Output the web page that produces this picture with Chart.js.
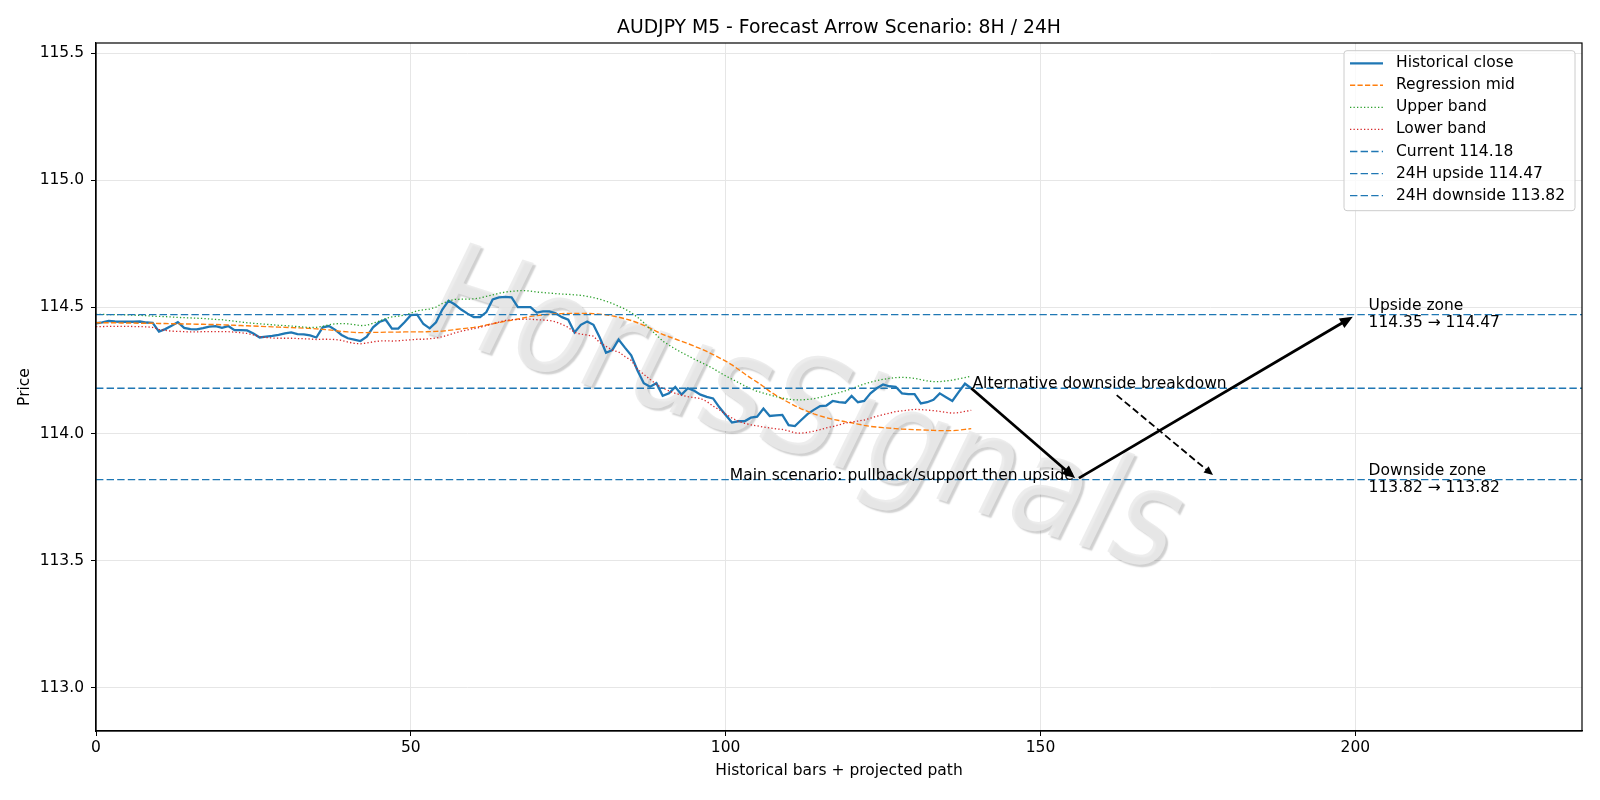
<!DOCTYPE html>
<html><head><meta charset="utf-8">
<script src="https://cdn.jsdelivr.net/npm/chart.js@4.4.1/dist/chart.umd.min.js"></script>
<style>html,body{margin:0;padding:0;background:#fff;}canvas{display:block;}</style>
</head><body>
<canvas id="c" width="1600" height="800"></canvas>
<script>
// ---------- DATA ----------
const historicalClose = [
114.436,114.440,114.445,114.443,114.442,114.442,114.442,114.443,114.439,114.438,
114.403,114.413,114.426,114.440,114.418,114.413,114.412,114.417,114.423,114.425,
114.418,114.425,114.409,114.409,114.408,114.396,114.380,114.383,114.386,114.390,
114.396,114.400,114.393,114.392,114.388,114.380,114.420,114.425,114.410,114.390,
114.377,114.372,114.366,114.383,114.420,114.441,114.450,114.415,114.415,114.440,
114.468,114.470,114.433,114.416,114.440,114.490,114.525,114.510,114.490,114.474,
114.460,114.460,114.480,114.530,114.538,114.540,114.538,114.500,114.500,114.500,
114.478,114.483,114.483,114.475,114.460,114.450,114.400,114.430,114.443,114.430,
114.380,114.320,114.330,114.372,114.340,114.310,114.250,114.200,114.186,114.200,
114.150,114.160,114.185,114.155,114.180,114.170,114.155,114.146,114.140,114.105,
114.075,114.045,114.050,114.050,114.064,114.068,114.100,114.071,114.073,114.075,
114.035,114.031,114.055,114.078,114.095,114.110,114.112,114.130,114.125,114.123,
114.150,114.125,114.130,114.160,114.180,114.195,114.188,114.186,114.160,114.157,
114.157,114.120,114.125,114.135,114.160,114.145,114.130,114.165,114.198,114.180];

const regressionMid = [
114.438,114.438,114.438,114.438,114.437,114.437,114.437,114.436,114.436,114.436,
114.435,114.435,114.434,114.434,114.433,114.433,114.432,114.432,114.431,114.431,
114.430,114.429,114.428,114.427,114.426,114.425,114.424,114.423,114.422,114.421,
114.420,114.419,114.418,114.417,114.416,114.414,114.412,114.410,114.407,114.404,
114.402,114.400,114.399,114.399,114.400,114.400,114.401,114.401,114.401,114.402,
114.402,114.402,114.402,114.403,114.404,114.405,114.408,114.411,114.414,114.417,
114.420,114.424,114.429,114.434,114.439,114.444,114.448,114.453,114.458,114.463,
114.466,114.469,114.471,114.473,114.474,114.475,114.475,114.475,114.475,114.474,
114.472,114.469,114.465,114.460,114.454,114.447,114.438,114.428,114.417,114.404,
114.392,114.383,114.374,114.365,114.356,114.346,114.336,114.325,114.313,114.300,
114.287,114.272,114.255,114.237,114.220,114.204,114.187,114.168,114.152,114.138,
114.124,114.111,114.099,114.089,114.079,114.071,114.064,114.058,114.053,114.048,
114.044,114.039,114.034,114.030,114.027,114.025,114.023,114.021,114.019,114.018,
114.017,114.016,114.015,114.014,114.013,114.013,114.013,114.015,114.018,114.021];

const upperBand = [
114.471,114.471,114.470,114.470,114.470,114.469,114.468,114.467,114.466,114.464,
114.463,114.462,114.461,114.459,114.458,114.457,114.456,114.455,114.453,114.451,
114.450,114.447,114.444,114.441,114.438,114.436,114.434,114.432,114.430,114.428,
114.427,114.425,114.423,114.421,114.419,114.420,114.424,114.430,114.434,114.435,
114.434,114.431,114.427,114.428,114.436,114.445,114.455,114.461,114.464,114.468,
114.476,114.485,114.489,114.492,114.500,114.514,114.524,114.530,114.531,114.531,
114.532,114.536,114.542,114.548,114.554,114.559,114.562,114.564,114.565,114.563,
114.559,114.557,114.555,114.553,114.551,114.550,114.548,114.546,114.542,114.537,
114.531,114.523,114.514,114.503,114.492,114.478,114.460,114.438,114.413,114.390,
114.366,114.350,114.335,114.321,114.308,114.295,114.283,114.271,114.258,114.243,
114.229,114.216,114.203,114.190,114.178,114.168,114.161,114.154,114.147,114.141,
114.137,114.134,114.134,114.136,114.139,114.144,114.150,114.157,114.163,114.170,
114.178,114.188,114.197,114.204,114.210,114.215,114.219,114.222,114.223,114.222,
114.219,114.214,114.209,114.206,114.206,114.209,114.212,114.217,114.222,114.228];

const lowerBand = [
114.423,114.423,114.424,114.424,114.424,114.424,114.423,114.423,114.422,114.420,
114.412,114.408,114.405,114.404,114.403,114.402,114.402,114.403,114.403,114.403,
114.403,114.403,114.401,114.399,114.396,114.390,114.383,114.380,114.378,114.377,
114.377,114.377,114.376,114.375,114.374,114.372,114.373,114.373,114.372,114.369,
114.362,114.357,114.355,114.358,114.363,114.366,114.367,114.366,114.367,114.369,
114.371,114.373,114.373,114.375,114.378,114.383,114.390,114.398,114.405,114.410,
114.415,114.420,114.427,114.434,114.441,114.447,114.450,114.451,114.452,114.452,
114.450,114.449,114.447,114.442,114.432,114.420,114.400,114.393,114.390,114.385,
114.360,114.345,114.330,114.323,114.305,114.290,114.255,114.235,114.215,114.195,
114.180,114.170,114.160,114.153,114.147,114.143,114.140,114.128,114.110,114.095,
114.078,114.063,114.050,114.042,114.036,114.032,114.027,114.024,114.020,114.018,
114.012,114.004,114.003,114.006,114.011,114.017,114.024,114.029,114.036,114.043,
114.047,114.051,114.055,114.062,114.070,114.076,114.082,114.088,114.091,114.094,
114.097,114.096,114.094,114.092,114.089,114.085,114.082,114.084,114.089,114.093];

const currentLevel = 114.18;
const upsideLevel = 114.47;
const downsideLevel = 113.82;
const upsideZone = [114.35, 114.47];
const downsideZone = [113.82, 113.82];

const xTicks = [0, 50, 100, 150, 200];
const yTicks = [113.0, 113.5, 114.0, 114.5, 115.0, 115.5];
const xRange = [0, 236];
const yRange = [112.83, 115.54];

// arrow endpoints in data units [x, price]
const mainArrowDown = [[139.0, 114.18], [155.5, 113.826]];
const mainArrowUp = [[156.1, 113.826], [199.6, 114.462]];
const altArrow = [[162.1, 114.153], [177.4, 113.838]];

const titleText = 'AUDJPY M5 - Forecast Arrow Scenario: 8H / 24H';
const xLabel = 'Historical bars + projected path';
const yLabel = 'Price';
const altText = 'Alternative downside breakdown';
const mainText = 'Main scenario: pullback/support then upside';
const upsideText = ['Upside zone', upsideZone[0].toFixed(2) + ' \u2192 ' + upsideZone[1].toFixed(2)];
const downsideText = ['Downside zone', downsideZone[0].toFixed(2) + ' \u2192 ' + downsideZone[1].toFixed(2)];
const watermarkText = 'HorusSignals';

const legendLabels = ['Historical close', 'Regression mid', 'Upper band', 'Lower band',
  'Current ' + currentLevel.toFixed(2), '24H upside ' + upsideLevel.toFixed(2), '24H downside ' + downsideLevel.toFixed(2)];

// ---------- STYLES ----------
const C_BLUE = '#1f77b4', C_ORANGE = '#ff7f0e', C_GREEN = '#2ca02c', C_RED = '#d62728';
const FONT = '"DejaVu Sans", Verdana, sans-serif';
const FS = 15.5, FS_TITLE = 18.8;
const DASH_H = [7.4, 3.2];
const DASH_MID = [5.2, 2.3];
const DOT = [1.3, 2.2];

const toXY = arr => arr.map((y, i) => ({x: i, y: y}));
const hline = v => [{x: xRange[0], y: v}, {x: xRange[1], y: v}];

const datasets = [
  {label: legendLabels[0], data: toXY(historicalClose), borderColor: C_BLUE, borderWidth: 2.3, order: 7},
  {label: legendLabels[1], data: toXY(regressionMid), borderColor: C_ORANGE, borderWidth: 1.4, borderDash: DASH_MID, order: 6},
  {label: legendLabels[2], data: toXY(upperBand), borderColor: C_GREEN, borderWidth: 1.3, borderDash: DOT, order: 5},
  {label: legendLabels[3], data: toXY(lowerBand), borderColor: C_RED, borderWidth: 1.3, borderDash: DOT, order: 4},
  {label: legendLabels[4], data: hline(currentLevel), borderColor: C_BLUE, borderWidth: 1.4, borderDash: DASH_H, order: 3},
  {label: legendLabels[5], data: hline(upsideLevel), borderColor: C_BLUE, borderWidth: 1.4, borderDash: DASH_H, order: 2},
  {label: legendLabels[6], data: hline(downsideLevel), borderColor: C_BLUE, borderWidth: 1.4, borderDash: DASH_H, order: 1}
];
datasets.forEach(d => { d.pointRadius = 0; d.fill = false; d.tension = 0; d.borderCapStyle = 'butt'; });

function drawArrow(ctx, xs, ys, p, lw, dash, headLen, headW) {
  const x1 = xs.getPixelForValue(p[0][0]), y1 = ys.getPixelForValue(p[0][1]);
  const x2 = xs.getPixelForValue(p[1][0]), y2 = ys.getPixelForValue(p[1][1]);
  const ang = Math.atan2(y2 - y1, x2 - x1);
  const bx = x2 - headLen * Math.cos(ang), by = y2 - headLen * Math.sin(ang);
  ctx.save();
  ctx.strokeStyle = '#000'; ctx.fillStyle = '#000';
  ctx.lineWidth = lw; ctx.setLineDash(dash);
  ctx.beginPath(); ctx.moveTo(x1, y1); ctx.lineTo(bx + Math.cos(ang) * 2, by + Math.sin(ang) * 2); ctx.stroke();
  ctx.setLineDash([]);
  ctx.beginPath();
  ctx.moveTo(x2, y2);
  ctx.lineTo(bx + headW * Math.sin(ang), by - headW * Math.cos(ang));
  ctx.lineTo(bx - headW * Math.sin(ang), by + headW * Math.cos(ang));
  ctx.closePath(); ctx.fill();
  ctx.restore();
}

const decor = {
  id: 'decor',
  beforeDatasetsDraw(chart) {
    const ctx = chart.ctx;
    const base = 18 * Math.PI / 180, tilt = 26 * Math.PI / 180, stretch = 1.15;
    ctx.save();
    ctx.translate(803, 418);
    ctx.transform(Math.cos(base), Math.sin(base), -Math.sin(tilt) * stretch, Math.cos(tilt) * stretch, 0, 0);
    ctx.font = '120px ' + FONT;
    ctx.textAlign = 'center'; ctx.textBaseline = 'middle';
    ctx.shadowColor = 'rgba(0,0,0,0.22)'; ctx.shadowOffsetX = 2.5; ctx.shadowOffsetY = 2.5; ctx.shadowBlur = 1.5;
    ctx.fillStyle = 'rgba(234,234,234,0.85)';
    ctx.fillText(watermarkText, 0, 0);
    ctx.restore();
  },
  afterDatasetsDraw(chart) {
    const ctx = chart.ctx, a = chart.chartArea;
    const xs = chart.scales.x, ys = chart.scales.y;
    // spines
    ctx.save();
    ctx.strokeStyle = '#000'; ctx.lineWidth = 1.2;
    ctx.strokeRect(a.left, a.top, a.right - a.left, a.bottom - a.top);
    ctx.restore();
    // arrows
    drawArrow(ctx, xs, ys, mainArrowDown, 2.8, [], 13, 5.5);
    drawArrow(ctx, xs, ys, mainArrowUp, 2.8, [], 13, 5.5);
    drawArrow(ctx, xs, ys, altArrow, 1.8, [7, 3.5], 9, 4);
    // annotation text
    ctx.save();
    ctx.fillStyle = '#000';
    ctx.font = FS + 'px ' + FONT;
    ctx.textBaseline = 'alphabetic';
    ctx.textAlign = 'left';
    ctx.fillText(altText, xs.getPixelForValue(139.2), ys.getPixelForValue(currentLevel));
    ctx.textAlign = 'right';
    ctx.fillText(mainText, xs.getPixelForValue(155.3), ys.getPixelForValue(downsideLevel));
    ctx.textAlign = 'left'; ctx.textBaseline = 'middle';
    const zx = xs.getPixelForValue(202.1);
    const uy = ys.getPixelForValue(upsideLevel), dy = ys.getPixelForValue(downsideLevel);
    ctx.fillText(upsideText[0], zx, uy - 8.4);
    ctx.fillText(upsideText[1], zx, uy + 8.4);
    ctx.fillText(downsideText[0], zx, dy - 8.4);
    ctx.fillText(downsideText[1], zx, dy + 8.4);
    // title & axis labels
    ctx.textAlign = 'center'; ctx.textBaseline = 'alphabetic';
    ctx.font = FS_TITLE + 'px ' + FONT;
    ctx.fillText(titleText, (a.left + a.right) / 2, 32.5);
    ctx.font = FS + 'px ' + FONT;
    ctx.textBaseline = 'middle';
    ctx.fillText(xLabel, (a.left + a.right) / 2, 771);
    ctx.save();
    ctx.translate(25, (a.top + a.bottom) / 2);
    ctx.rotate(-Math.PI / 2);
    ctx.fillText(yLabel, 0, 0);
    ctx.restore();
    // legend
    const lx = 1344, ly = 50.7, lw = 231, lh = 160;
    ctx.save();
    ctx.fillStyle = 'rgba(255,255,255,0.8)';
    ctx.strokeStyle = '#cccccc'; ctx.lineWidth = 1;
    ctx.beginPath();
    if (ctx.roundRect) ctx.roundRect(lx, ly, lw, lh, 3); else ctx.rect(lx, ly, lw, lh);
    ctx.fill(); ctx.stroke();
    ctx.restore();
    const rowY = [63.3, 85.3, 107.3, 129.3, 151.5, 173.6, 195.6];
    datasets.forEach((d, i) => {
      ctx.save();
      ctx.strokeStyle = d.borderColor; ctx.lineWidth = d.borderWidth;
      ctx.setLineDash(d.borderDash || []);
      ctx.beginPath(); ctx.moveTo(1350, rowY[i]); ctx.lineTo(1383, rowY[i]); ctx.stroke();
      ctx.restore();
      ctx.fillStyle = '#000'; ctx.textAlign = 'left'; ctx.textBaseline = 'middle';
      ctx.font = FS + 'px ' + FONT;
      ctx.fillText(d.label, 1396, rowY[i]);
    });
    ctx.restore();
  }
};

new Chart(document.getElementById('c'), {
  type: 'line',
  data: {datasets: datasets},
  options: {
    responsive: false, animation: false, devicePixelRatio: 1,
    layout: {padding: {left: 0, right: 18, top: 43, bottom: 0}},
    plugins: {legend: {display: false}, tooltip: {enabled: false}, title: {display: false}},
    scales: {
      x: {
        type: 'linear', min: xRange[0], max: xRange[1],
        afterBuildTicks: s => { s.ticks = xTicks.map(v => ({value: v})); },
        afterFit: s => { s.height = 69; },
        ticks: {font: {family: FONT, size: FS}, color: '#000', padding: 3, maxRotation: 0, autoSkip: false,
                callback: v => String(v)},
        grid: {color: '#e6e6e6', lineWidth: 1, tickColor: '#000', tickLength: 5, drawTicks: true},
        border: {display: true, color: '#000', width: 1.2}
      },
      y: {
        type: 'linear', min: yRange[0], max: yRange[1],
        afterBuildTicks: s => { s.ticks = yTicks.map(v => ({value: v})); },
        afterFit: s => { s.width = 96; },
        ticks: {font: {family: FONT, size: FS}, color: '#000', padding: 7,
                callback: v => Number(v).toFixed(1)},
        grid: {color: '#e6e6e6', lineWidth: 1, tickColor: '#000', tickLength: 5, drawTicks: true},
        border: {display: true, color: '#000', width: 1.2}
      }
    }
  },
  plugins: [decor]
});
</script>
</body></html>
